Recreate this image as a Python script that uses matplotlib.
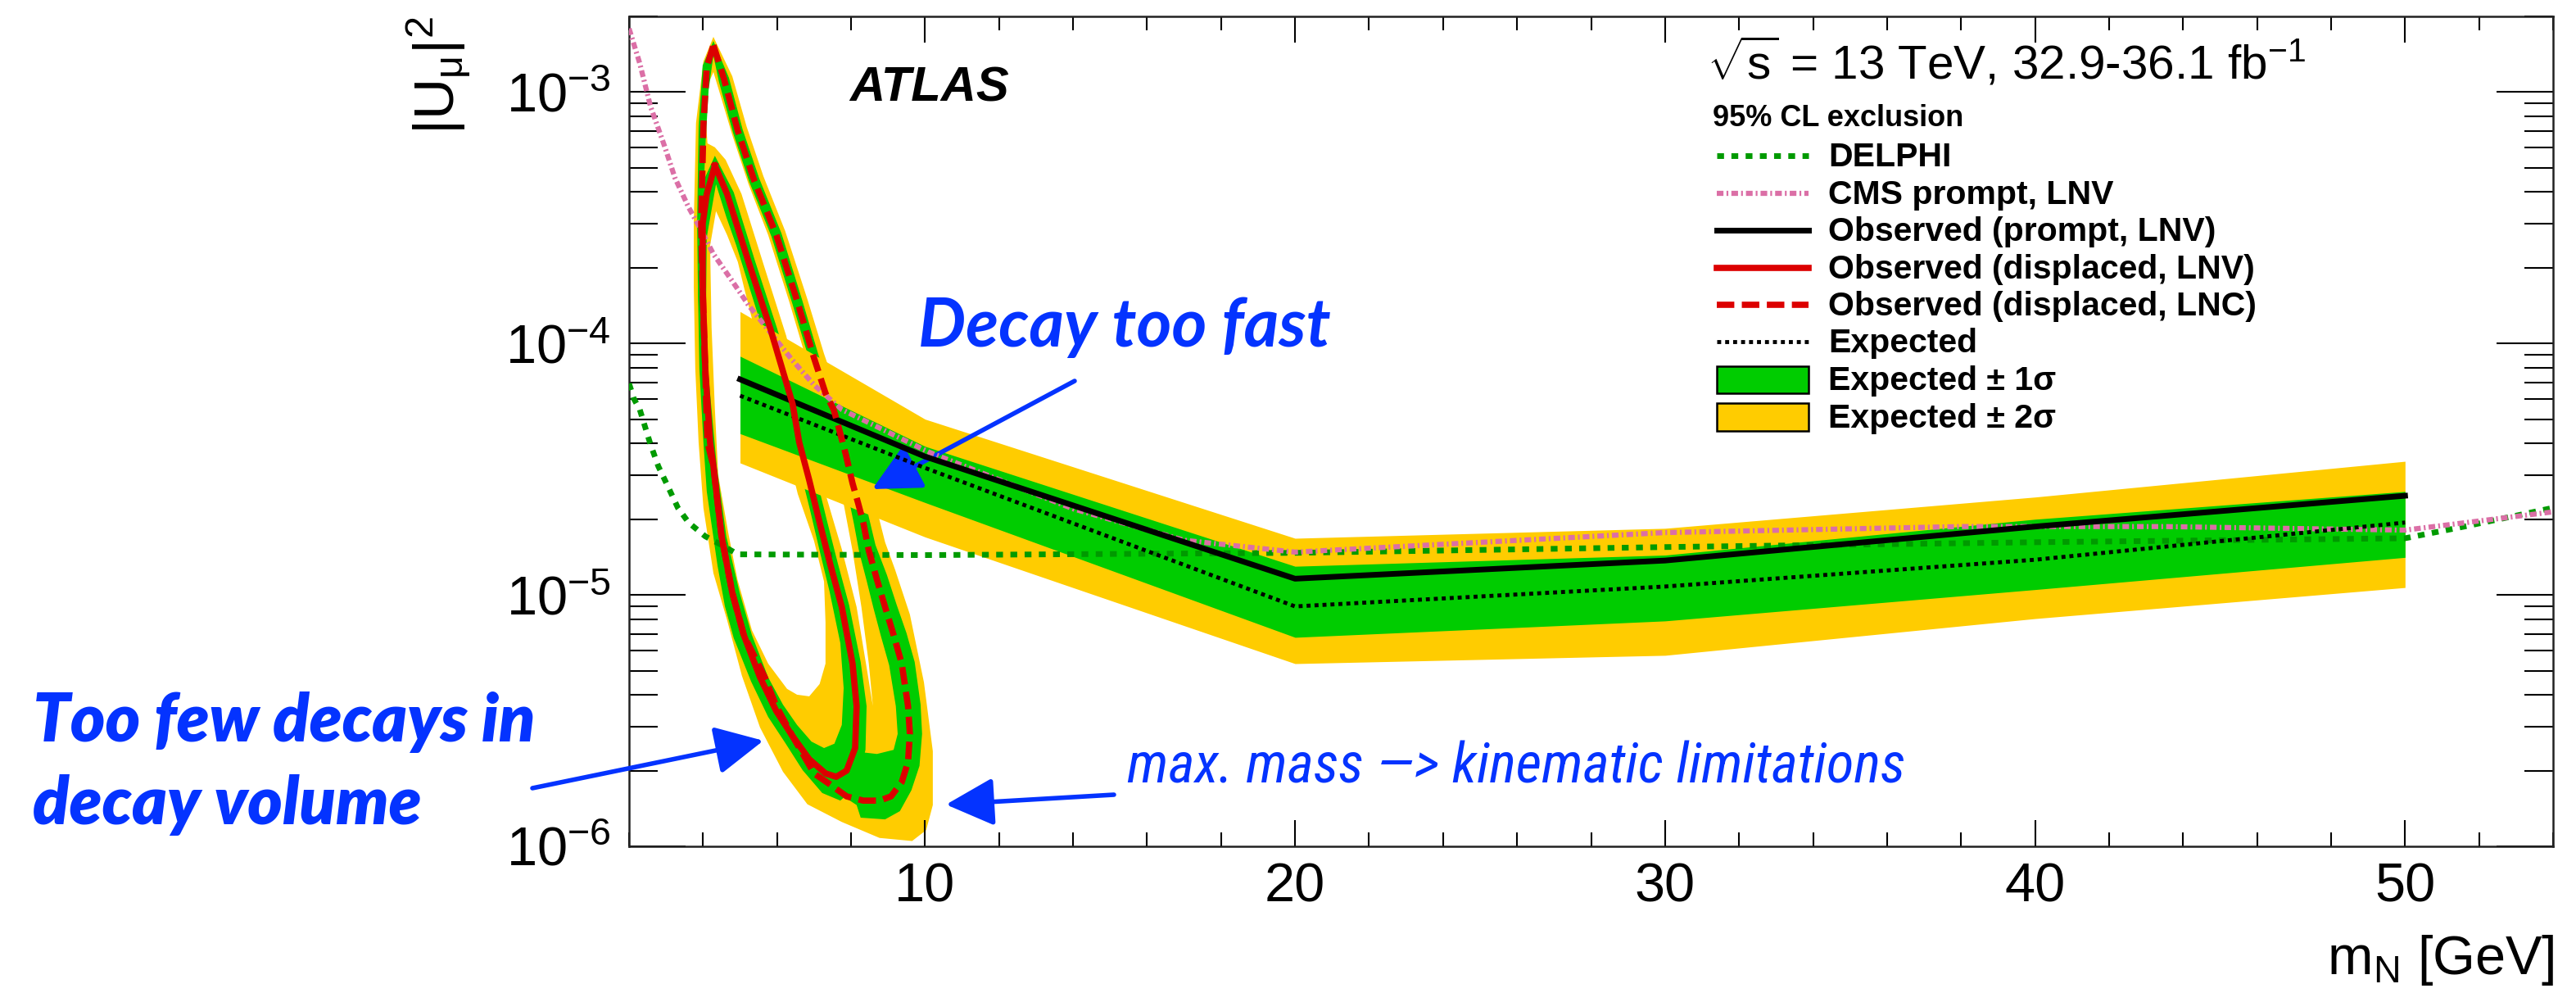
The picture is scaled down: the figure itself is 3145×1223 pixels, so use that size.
import numpy as np
import matplotlib
matplotlib.use("Agg")
import matplotlib.pyplot as plt
from matplotlib import font_manager
from matplotlib.path import Path
from matplotlib.patches import PathPatch, Rectangle
from matplotlib.lines import Line2D
from matplotlib.ticker import MultipleLocator, FixedLocator, LogLocator, NullFormatter

# ---------------- prompt search, 5-50 GeV ----------------
prompt_mass = [5, 10, 20, 30, 40, 50]
prompt_obs = [7.2e-5, 3.55e-5, 1.16e-5, 1.37e-5, 1.87e-5, 2.48e-5]
prompt_exp = [6.2e-5, 3.2e-5, 9.0e-6, 1.08e-5, 1.38e-5, 1.94e-5]
prompt_1s_up = [8.9e-5, 3.9e-5, 1.30e-5, 1.44e-5, 2.0e-5, 2.58e-5]
prompt_1s_dn = [4.38e-5, 2.33e-5, 6.78e-6, 7.88e-6, 1.05e-5, 1.41e-5]
prompt_2s_up = [1.34e-4, 5.0e-5, 1.68e-5, 1.84e-5, 2.45e-5, 3.40e-5]
prompt_2s_dn = [3.35e-5, 1.7e-5, 5.33e-6, 5.75e-6, 8.05e-6, 1.07e-5]

# ---------------- external limits ----------------
delphi_mass = [2.0, 2.13, 2.29, 2.57, 2.79, 3.01, 3.32, 3.61, 4.06, 4.50, 4.94,
               10.0, 20.0, 30.0, 40.0, 50.0, 51.6, 54.0]
delphi_u = [6.93e-5, 6.03e-5, 5.46e-5, 4.01e-5, 3.25e-5, 2.78e-5, 2.22e-5, 1.94e-5,
            1.71e-5, 1.58e-5, 1.45e-5, 1.44e-5, 1.47e-5, 1.55e-5, 1.62e-5, 1.68e-5,
            1.87e-5, 2.22e-5]

cms_mass = [2.0, 2.29, 2.58, 2.95, 3.24, 3.61, 3.90, 4.28, 4.79, 5.23, 5.83, 6.42,
            7.00, 7.75, 10.1, 14.0, 17.0, 20.0, 30.0, 38.0, 43.5, 50.0, 54.0]
cms_u = [1.79e-3, 1.30e-3, 8.77e-4, 6.15e-4, 4.56e-4, 3.48e-4, 2.91e-4, 2.27e-4,
         1.77e-4, 1.42e-4, 1.10e-4, 8.56e-5, 6.84e-5, 5.46e-5, 3.7e-5, 2.2e-5,
         1.65e-5, 1.48e-5, 1.77e-5, 1.87e-5, 1.87e-5, 1.81e-5, 2.14e-5]

# ---------------- displaced search: observed contours ----------------
lnv_obs_m = [4.32, 4.65, 5.23, 5.83, 6.42, 6.60, 6.87, 7.15, 7.44, 7.75, 8.04, 8.15,
             8.11, 7.88, 7.60, 7.31, 6.87, 6.42, 5.98, 5.54, 5.10, 4.79, 4.50, 4.28,
             4.19, 4.06, 3.99, 3.99, 4.10]
lnv_obs_u = [5.10e-4, 3.93e-4, 2.11e-4, 1.13e-4, 5.75e-5, 4.04e-5, 2.86e-5, 1.94e-5,
             1.32e-5, 8.95e-6, 5.33e-6, 3.61e-6, 2.46e-6, 2.00e-6, 1.89e-6, 1.95e-6,
             2.22e-6, 2.74e-6, 3.45e-6, 4.70e-6, 6.93e-6, 1.02e-5, 1.71e-5, 3.25e-5,
             4.04e-5, 7.94e-5, 1.68e-4, 3.00e-4, 3.93e-4]

lnc_obs_m = [4.28, 4.57, 4.94, 5.38, 5.98, 6.56, 7.00, 7.31, 7.53, 7.66, 7.86, 8.04,
             8.19, 8.33, 8.48, 8.70, 8.92, 9.15, 9.37, 9.54, 9.59, 9.54, 9.37, 9.08,
             8.77, 8.33, 7.88, 7.44, 7.00, 6.42, 5.98, 5.67, 5.10, 4.79, 4.50, 4.28,
             4.12, 4.06, 3.99, 3.95, 4.01, 4.10]
lnc_obs_u = [1.537e-3, 1.123e-3, 7.00e-4, 4.46e-4, 2.70e-4, 1.45e-4, 8.75e-5, 6.34e-5,
             5.46e-5, 4.67e-5, 3.61e-5, 2.78e-5, 2.32e-5, 1.94e-5, 1.50e-5, 1.15e-5,
             8.95e-6, 6.93e-6, 5.33e-6, 3.61e-6, 2.80e-6, 2.17e-6, 1.80e-6, 1.58e-6,
             1.52e-6, 1.52e-6, 1.58e-6, 1.76e-6, 1.95e-6, 2.74e-6, 3.61e-6, 4.70e-6,
             6.93e-6, 1.02e-5, 1.71e-5, 3.25e-5, 4.04e-5, 7.76e-5, 1.64e-4, 3.00e-4,
             7.38e-4, 1.256e-3]

# ---------------- displaced search: expected bands ----------------
# outer edge of the combined +-2 sigma region
disp_2s_outer_m = [4.28, 4.79, 5.18, 5.63, 6.22, 6.82, 7.27, 7.60, 7.97, 8.19, 8.39,
                   8.73, 8.92, 9.19, 9.59, 9.97, 10.21, 10.21, 10.03, 9.65, 8.77, 7.75,
                   6.82, 6.16, 5.54, 5.05, 4.65, 4.28, 4.01, 3.88, 3.79, 3.75, 3.75,
                   3.81, 4.01]
disp_2s_outer_u = [1.658e-3, 1.156e-3, 7.27e-4, 4.63e-4, 2.80e-4, 1.50e-4, 9.1e-5,
                   6.58e-5, 4.88e-5, 3.81e-5, 2.95e-5, 2.09e-5, 1.62e-5, 1.26e-5,
                   8.36e-6, 4.49e-6, 2.39e-6, 1.46e-6, 1.16e-6, 1.05e-6, 1.08e-6,
                   1.25e-6, 1.47e-6, 1.98e-6, 2.97e-6, 4.77e-6, 7.94e-6, 1.22e-5,
                   2.22e-5, 4.04e-5, 7.94e-5, 1.68e-4, 3.07e-4, 7.53e-4, 1.325e-3]
# uncovered region between the LNC and LNV bands
disp_2s_gap_m = [4.28, 4.46, 4.79, 5.23, 5.76, 6.34, 6.78, 7.04, 7.29, 7.51, 7.75,
                 8.04, 8.28, 8.48, 8.59, 8.44, 8.15, 7.75, 7.31, 6.98, 6.71, 6.25,
                 5.65, 5.04, 4.61, 4.32, 4.12, 4.06, 4.12]
disp_2s_gap_u = [1.202e-3, 9.82e-4, 6.75e-4, 4.30e-4, 2.70e-4, 1.45e-4, 8.75e-5,
                 6.34e-5, 4.88e-5, 3.61e-5, 2.52e-5, 1.50e-5, 8.95e-6, 5.33e-6,
                 3.61e-6, 4.94e-6, 8.95e-6, 1.52e-5, 2.52e-5, 3.81e-5, 5.46e-5,
                 1.07e-4, 2.03e-4, 3.93e-4, 5.38e-4, 6.03e-4, 6.25e-4, 8.12e-4,
                 1.057e-3]
# inner edge of the LNV -2 sigma contour
lnv_2s_inner_m = [4.35, 4.65, 4.94, 5.12, 5.38, 5.67, 5.98, 6.27, 6.56, 7.00, 7.27,
                  7.31, 7.31, 7.15, 6.87, 6.54, 6.27, 5.76, 5.32, 4.93, 4.68, 4.41,
                  4.32, 4.23, 4.19]
lnv_2s_inner_u = [3.36e-4, 2.70e-4, 2.11e-4, 1.64e-4, 1.16e-4, 7.94e-5, 5.46e-5,
                  3.75e-5, 2.52e-5, 1.64e-5, 1.13e-5, 7.76e-6, 5.33e-6, 4.42e-6,
                  3.95e-6, 4.01e-6, 4.23e-6, 5.33e-6, 7.24e-6, 1.15e-5, 1.77e-5,
                  2.99e-5, 5.46e-5, 1.16e-4, 2.45e-4]
# LNV +-1 sigma contours
lnv_1s_outer_m = [4.32, 4.83, 5.40, 6.00, 6.60, 6.78, 7.07, 7.35, 7.64, 7.95, 8.26,
                  8.42, 8.39, 8.15, 7.71, 7.22, 6.69, 6.22, 5.76, 5.30, 4.83, 4.59,
                  4.39, 4.10, 4.01, 3.90, 3.86, 3.86, 3.97]
lnv_1s_outer_u = [5.58e-4, 3.99e-4, 2.14e-4, 1.15e-4, 5.84e-5, 4.10e-5, 2.90e-5,
                  1.97e-5, 1.34e-5, 9.08e-6, 5.41e-6, 3.61e-6, 2.42e-6, 1.73e-6,
                  1.52e-6, 1.63e-6, 2.01e-6, 2.58e-6, 3.27e-6, 4.52e-6, 6.73e-6,
                  9.02e-6, 1.31e-5, 2.58e-5, 4.04e-5, 7.94e-5, 1.68e-4, 3.00e-4,
                  4.30e-4]
lnv_1s_inner_m = [4.35, 4.63, 4.90, 5.21, 5.52, 5.83, 6.12, 6.34, 6.60, 6.89, 7.15,
                  7.42, 7.71, 7.80, 7.75, 7.55, 7.27, 6.93, 6.54, 6.16, 5.76, 5.32,
                  4.99, 4.63, 4.37, 4.15, 4.08, 4.10]
lnv_1s_inner_u = [4.30e-4, 3.18e-4, 2.45e-4, 1.75e-4, 1.25e-4, 8.9e-5, 6.1e-5,
                  4.53e-5, 3.23e-5, 2.18e-5, 1.50e-5, 1.03e-5, 6.43e-6, 4.26e-6,
                  3.04e-6, 2.56e-6, 2.46e-6, 2.61e-6, 3.04e-6, 3.66e-6, 4.70e-6,
                  6.93e-6, 1.02e-5, 1.71e-5, 3.25e-5, 7.36e-5, 1.34e-4, 2.64e-4]
# LNC +-1 sigma contours
lnc_1s_outer_m = [4.28, 4.70, 5.07, 5.52, 6.12, 6.69, 7.13, 7.44, 7.82, 8.06, 8.26,
                  8.48, 8.66, 8.97, 9.23, 9.50, 9.72, 9.88, 9.92, 9.85, 9.63, 9.32,
                  8.92, 8.26, 8.15, 7.88, 7.44, 7.00, 6.42, 5.94, 5.49, 5.01, 4.63,
                  4.37, 4.10, 3.95, 3.86, 3.84, 3.88, 3.99]
lnc_1s_outer_u = [1.596e-3, 1.140e-3, 7.10e-4, 4.53e-4, 2.74e-4, 1.47e-4, 8.9e-5,
                  6.44e-5, 4.77e-5, 3.72e-5, 2.88e-5, 2.04e-5, 1.58e-5, 1.20e-5,
                  9.16e-6, 7.04e-6, 5.41e-6, 3.66e-6, 2.80e-6, 2.09e-6, 1.67e-6,
                  1.38e-6, 1.28e-6, 1.30e-6, 1.46e-6, 1.55e-6, 1.71e-6, 1.89e-6,
                  2.61e-6, 3.45e-6, 4.59e-6, 6.68e-6, 9.94e-6, 1.64e-5, 3.30e-5,
                  7.94e-5, 1.68e-4, 3.00e-4, 7.38e-4, 1.276e-3]
lnc_1s_inner_m = [4.28, 4.43, 4.81, 5.25, 5.85, 6.42, 6.87, 7.18, 7.40, 7.53, 7.71,
                  7.84, 7.97, 8.08, 8.22, 8.42, 8.61, 8.81, 9.03, 9.21, 9.26, 9.15,
                  8.70, 8.26, 7.88, 7.60, 7.31, 6.87, 6.42, 5.98, 5.54, 5.10, 4.79,
                  4.50, 4.28, 4.19, 4.06, 3.99, 3.99, 4.06, 4.15]
lnc_1s_inner_u = [1.396e-3, 1.097e-3, 6.89e-4, 4.39e-4, 2.66e-4, 1.43e-4, 8.62e-5,
                  6.25e-5, 5.38e-5, 4.59e-5, 3.56e-5, 2.74e-5, 2.29e-5, 1.91e-5,
                  1.48e-5, 1.14e-5, 8.81e-6, 6.83e-6, 5.25e-6, 3.61e-6, 2.80e-6,
                  2.42e-6, 2.33e-6, 2.37e-6, 2.00e-6, 1.89e-6, 1.95e-6, 2.22e-6,
                  2.74e-6, 3.45e-6, 4.70e-6, 6.93e-6, 1.02e-5, 1.71e-5, 3.25e-5,
                  4.04e-5, 7.94e-5, 1.68e-4, 3.00e-4, 6.03e-4, 1.019e-3]

legend_labels = ['DELPHI', 'CMS prompt, LNV', 'Observed (prompt, LNV)',
                 'Observed (displaced, LNV)', 'Observed (displaced, LNC)', 'Expected',
                 'Expected \u00b1 1\u03c3', 'Expected \u00b1 2\u03c3']

# ---------------- fonts ----------------
installed = {f.name for f in font_manager.fontManager.ttflist}
SANS = 'Liberation Sans' if 'Liberation Sans' in installed else 'DejaVu Sans'
ANNOT = 'Lato' if 'Lato' in installed else 'DejaVu Sans'
narrow_pref = ['Liberation Sans Narrow', 'Roboto Condensed', 'Open Sans Condensed',
               'Noto Sans Condensed', 'DejaVu Sans Condensed', 'Noto Sans SemiCondensed']
narrow_any = sorted(n for n in installed if ('Condensed' in n or 'Narrow' in n)
                    and 'Mono' not in n and 'Serif' not in n)
NARROW = next((n for n in narrow_pref if n in installed),
              narrow_any[0] if narrow_any else SANS)

plt.rcParams['font.family'] = [SANS, 'DejaVu Sans']
plt.rcParams['mathtext.fontset'] = 'custom'
plt.rcParams['mathtext.rm'] = SANS
plt.rcParams['mathtext.it'] = SANS + ':italic'
plt.rcParams['mathtext.bf'] = SANS + ':bold'
plt.rcParams['mathtext.sf'] = SANS
plt.rcParams['mathtext.default'] = 'regular'

# ---------------- colours & styles ----------------
YELLOW = '#ffcc00'
GREEN = '#00cc00'
RED = '#dc0000'
DELPHI_C = '#009a00'
CMS_C = '#db6fa6'
BLUE = '#0433ff'

sty_delphi = dict(color=DELPHI_C, lw=5, linestyle=(0, (1.2, 1.3)))
sty_cms = dict(color=CMS_C, lw=4.5, linestyle=(0, (1.3, 0.6, 0.35, 0.6)))
sty_obs = dict(color='black', lw=5, linestyle='-')
sty_lnv = dict(color=RED, lw=5.5, linestyle='-')
sty_lnc = dict(color=RED, lw=5.5, linestyle=(0, (2.8, 1.2)))
sty_exp = dict(color='black', lw=3.5, linestyle=(0, (1, 1)))

W, H = 3145, 1223
fig = plt.figure(figsize=(W / 100, H / 100), dpi=100)


def fx(px):
    return px / W


def fy(py):
    return 1 - py / H


ax = fig.add_axes([fx(768), fy(1033), fx(3117) - fx(768), fy(20) - fy(1033)])
ax.set_xlim(2, 54)
ax.set_yscale('log')
ax.set_ylim(1e-6, 2e-3)


def compound_path(outer, holes):
    """Closed outer boundary with holes, holes wound opposite to the outer ring."""
    def signed_area(m, u):
        x = np.asarray(m, float)
        y = np.log10(np.asarray(u, float))
        return 0.5 * np.sum(x * np.roll(y, -1) - np.roll(x, -1) * y)
    verts, codes = [], []
    s0 = np.sign(signed_area(*outer))
    for i, (m, u) in enumerate([outer] + list(holes)):
        m, u = list(m), list(u)
        if i > 0 and np.sign(signed_area(m, u)) == s0:
            m, u = m[::-1], u[::-1]
        verts += list(zip(m, u)) + [(m[0], u[0])]
        codes += [Path.MOVETO] + [Path.LINETO] * (len(m) - 1) + [Path.CLOSEPOLY]
    return Path(verts, codes)


def closed(m, u):
    return list(m) + [m[0]], list(u) + [u[0]]


# displaced expected bands
ax.add_patch(PathPatch(compound_path((disp_2s_outer_m, disp_2s_outer_u),
                                     [(disp_2s_gap_m, disp_2s_gap_u),
                                      (lnv_2s_inner_m, lnv_2s_inner_u)]),
                       facecolor=YELLOW, edgecolor='none', lw=0, zorder=1))
ax.add_patch(PathPatch(compound_path((lnc_1s_outer_m, lnc_1s_outer_u),
                                     [(lnc_1s_inner_m, lnc_1s_inner_u)]),
                       facecolor=GREEN, edgecolor='none', lw=0, zorder=1.1))
ax.add_patch(PathPatch(compound_path((lnv_1s_outer_m, lnv_1s_outer_u),
                                     [(lnv_1s_inner_m, lnv_1s_inner_u)]),
                       facecolor=GREEN, edgecolor='none', lw=0, zorder=1.2))

# prompt expected bands
ax.fill_between(prompt_mass, prompt_2s_dn, prompt_2s_up, color=YELLOW, lw=0, zorder=1.5)
ax.fill_between(prompt_mass, prompt_1s_dn, prompt_1s_up, color=GREEN, lw=0, zorder=1.6)

# limit curves
ax.plot(delphi_mass, delphi_u, zorder=3, **sty_delphi)
ax.plot(cms_mass, cms_u, zorder=3.1, **sty_cms)
ax.plot(prompt_mass, prompt_exp, zorder=3.5, **sty_exp)
ax.plot(prompt_mass, prompt_obs, zorder=4, **sty_obs)
ax.plot(*closed(lnc_obs_m, lnc_obs_u), zorder=5, **sty_lnc)
ax.plot(*closed(lnv_obs_m, lnv_obs_u), zorder=5.1, **sty_lnv)

# axes cosmetics
ax.xaxis.set_major_locator(FixedLocator([10, 20, 30, 40, 50]))
ax.xaxis.set_minor_locator(MultipleLocator(2))
ax.yaxis.set_major_locator(LogLocator(base=10, numticks=10))
ax.yaxis.set_minor_locator(LogLocator(base=10, subs=np.arange(2, 10), numticks=30))
ax.yaxis.set_minor_formatter(NullFormatter())
ax.tick_params(axis='x', which='major', direction='in', length=23, width=1.5,
               top=True, bottom=True, labelsize=48, pad=14)
ax.tick_params(axis='x', which='minor', direction='in', length=12, width=1.5,
               top=True, bottom=True)
ax.tick_params(axis='y', which='major', direction='in', length=50, width=1.5,
               left=True, right=True, labelsize=48, pad=16)
ax.tick_params(axis='y', which='minor', direction='in', length=25, width=1.5,
               left=True, right=True)
for sp in ax.spines.values():
    sp.set_linewidth(1.8)
    sp.set_color('#222222')

fig.text(fx(536), fy(20), r'$|U_{\mu}|^{2}$', rotation=90, ha='center', va='top',
         fontsize=50)
fig.text(fx(3119), fy(1139), r'm$_{N}$ [GeV]', ha='right', va='top', fontsize=48)

fig.text(fx(1037), fy(123), 'ATLAS', fontsize=43, fontweight='bold',
         fontstyle='italic', va='baseline')
fig.text(fx(2084), fy(97), r'$\sqrt{s}$ = 13 TeV, 32.9-36.1 fb$^{-1}$', fontsize=42,
         va='baseline')

# legend
fig.text(fx(2091), fy(154), '95% CL exclusion', fontsize=26, fontweight='bold',
         va='baseline')
line_rows = [190, 236, 281, 327, 372, 417]
line_styles = [sty_delphi, sty_cms, sty_obs, sty_lnv, sty_lnc, sty_exp]
for row, st, lab in zip(line_rows, line_styles, legend_labels[:6]):
    fig.add_artist(Line2D([fx(2096), fx(2208)], [fy(row), fy(row)],
                          transform=fig.transFigure, **st))
    fig.text(fx(2232), fy(row + 13), lab, fontsize=29.5, fontweight='bold',
             va='baseline')
for (top, bot), col, lab in zip([(447, 480), (492, 526)], [GREEN, YELLOW],
                                legend_labels[6:]):
    fig.add_artist(Rectangle((fx(2096), fy(bot)), fx(2208) - fx(2096),
                             fy(top) - fy(bot), transform=fig.transFigure,
                             facecolor=col, edgecolor='black', lw=1.8))
    fig.text(fx(2232), fy((top + bot) / 2 + 13), lab, fontsize=29.5,
             fontweight='bold', va='baseline')

# explanatory notes
renderer = fig.canvas.get_renderer()


def fit_width(txt, width_px):
    w = txt.get_window_extent(renderer=renderer).width
    txt.set_fontsize(txt.get_fontsize() * width_px / w)
    return txt.get_fontsize()


t = fig.text(fx(1121), fy(423), 'Decay too fast', fontsize=56, family=ANNOT,
             fontweight='bold', fontstyle='italic', color=BLUE, va='baseline')
fit_width(t, 504)
t = fig.text(fx(40), fy(905), 'Too few decays in', fontsize=56, family=ANNOT,
             fontweight='heavy', fontstyle='italic', color=BLUE, va='baseline')
size_few = fit_width(t, 614)
fig.text(fx(40), fy(1006), 'decay volume', fontsize=size_few, family=ANNOT,
         fontweight='heavy', fontstyle='italic', color=BLUE, va='baseline')
t = fig.text(fx(1376), fy(956), 'max. mass \u2014> kinematic limitations',
             fontsize=50, family=[NARROW, 'DejaVu Sans'], fontstyle='italic',
             fontstretch='condensed', color=BLUE, va='baseline')
fit_width(t, 951)

arrow_kw = dict(arrowstyle='-|>,head_length=0.9,head_width=0.45', color=BLUE,
                lw=4, mutation_scale=40, shrinkA=0, shrinkB=0)
for tail, tip in [((1312, 465), (1065, 597)),
                  ((650, 962), (932, 904)),
                  ((1360, 970), (1155, 982))]:
    ax.annotate('', xy=(fx(tip[0]), fy(tip[1])), xycoords='figure fraction',
                xytext=(fx(tail[0]), fy(tail[1])), textcoords='figure fraction',
                arrowprops=arrow_kw, annotation_clip=False)

fig.savefig('out.png', dpi=100)
